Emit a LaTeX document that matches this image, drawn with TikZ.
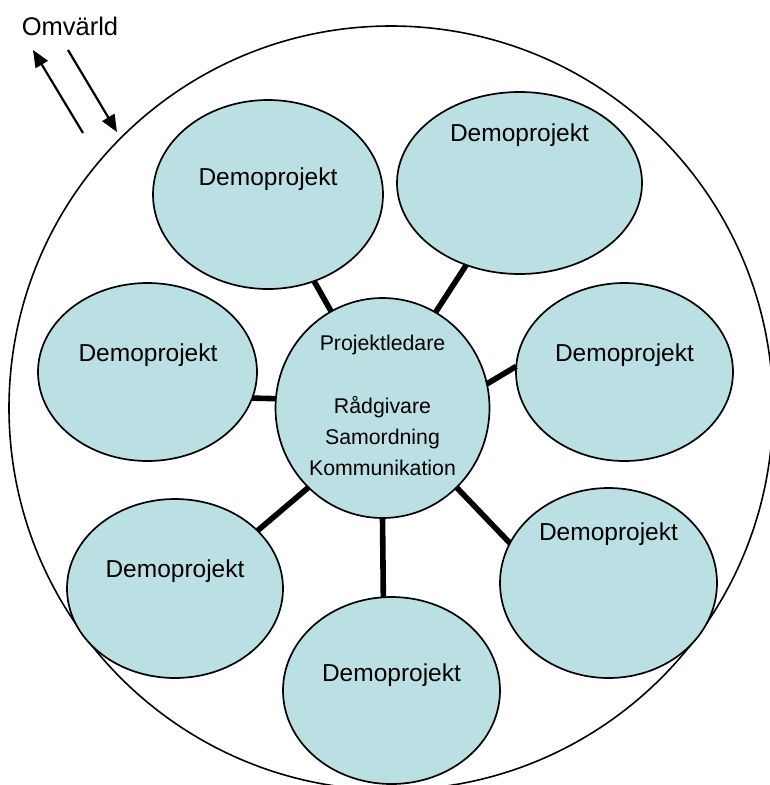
\documentclass[tikz,border=0pt]{standalone}
\usepackage{fontspec}
\setmainfont{Liberation Sans}
\usetikzlibrary{shapes.geometric,arrows.meta}
\definecolor{demofill}{RGB}{187,224,228}
\begin{document}
\begin{tikzpicture}[x=1pt,y=-1pt,
  proj/.style={ellipse, draw=black, line width=1.7pt, fill=demofill, inner sep=0pt, outer sep=0pt},
  lbl/.style={font=\fontsize{24.5}{29}\selectfont, anchor=base, inner sep=0pt},
  link/.style={line width=5.6pt},
  flow/.style={line width=2.2pt, -{Triangle[length=17pt,width=14pt]}}]
\useasboundingbox (0,0) rectangle (770,785);
\clip (0,0) rectangle (770,785);
\node[circle, draw, line width=1.6pt, minimum size=764pt, inner sep=0pt] (world) at (391,408) {};
% projects
\node[proj, minimum width=230pt, minimum height=189pt] (e1) at (268,194.5) {};
\node[proj, minimum width=245pt, minimum height=182pt] (e2) at (519.5,183) {};
\node[proj, minimum width=219pt, minimum height=178pt] (e3) at (147.5,372) {};
\node[proj, minimum width=217pt, minimum height=178pt] (e4) at (624.5,372) {};
\node[proj, minimum width=216pt, minimum height=179pt] (e5) at (175,588.5) {};
\node[proj, minimum width=217pt, minimum height=187pt] (e6) at (391.5,690.5) {};
\node[proj, minimum width=217pt, minimum height=190pt] (e7) at (608.5,583) {};
\node[proj, minimum width=214pt, minimum height=220pt] (c) at (382.5,408) {};
% labels
\node[lbl] (t1) at (268,185) {Demoprojekt};
\node[lbl] (t2) at (519.5,141.7) {Demoprojekt};
\node[lbl] (t3) at (148,361.7) {Demoprojekt};
\node[lbl] (t4) at (624.5,361.7) {Demoprojekt};
\node[lbl] (t5) at (175,577.3) {Demoprojekt};
\node[lbl] (t6) at (391.5,681.7) {Demoprojekt};
\node[lbl] (t7) at (608.5,540) {Demoprojekt};
\node[font=\fontsize{21.3}{31.3}\selectfont, align=center, anchor=base, inner sep=0pt] (ct) at (382.5,475.9)
  {Projektledare\\[31.3pt]Rådgivare\\Samordning\\Kommunikation};
% connectors
\draw[link] (c.118.2) -- (e1.-62);
\draw[link] (c.61.3) -- (e2.-123);
\draw[link] (c.175.2) -- (e3.-14.8);
\draw[link] (c.13.5) -- (e4.177.4);
\draw[link] (c.-133.7) -- (e5.35.6);
\draw[link] (c.-90) -- (e6.95.6);
\draw[link] (c.-47) -- (e7.158.9);
% outside world
\node[font=\fontsize{25.5}{30}\selectfont, anchor=base, inner sep=0pt] (omv) at (70,35) {Omvärld};
\coordinate (o1s) at (83,133);
\coordinate (o1e) at (33,50);
\coordinate (o2s) at (68,50);
\coordinate (o2e) at (117,132);
\draw[flow] (o1s) -- (o1e);
\draw[flow] (o2s) -- (o2e);
\end{tikzpicture}
\end{document}
